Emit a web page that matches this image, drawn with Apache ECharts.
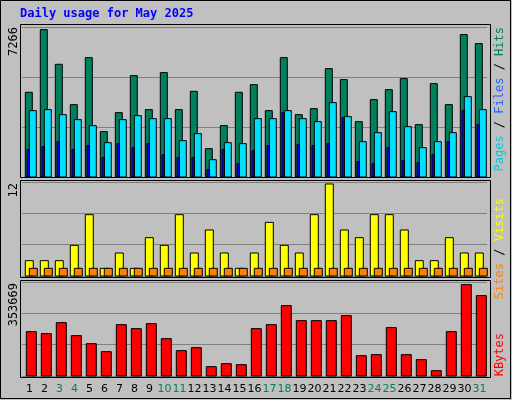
<!DOCTYPE html><html><head><meta charset="utf-8">
<script src="https://cdn.jsdelivr.net/npm/echarts@6/dist/echarts.min.js"></script>
<style>html,body{margin:0;padding:0;background:#c0c0c0}#c{width:512px;height:400px}</style></head><body><div id="c"></div>
<script>
const days=['1','2','3','4','5','6','7','8','9','10','11','12','13','14','15','16','17','18','19','20','21','22','23','24','25','26','27','28','29','30','31'];
const weekend=['3','4','10','11','17','18','24','25','31'];
const hits=[4176,7266,5557,3567,5885,2236,3173,4998,3321,5146,3321,4225,1397,2532,4176,4554,3272,5885,3074,3370,5343,4800,2729,3814,4307,4850,2581,4603,3567,7020,6576];
const files=[3272,3321,3074,2828,2532,1693,2828,3025,2877,2877,1792,2137,855,1693,1644,2877,2877,3272,2877,2729,3666,2976,1743,2187,3222,2482,1447,1743,2187,3962,3321];
const pages=[1348,1496,1743,1348,1545,954,1644,1447,1644,1101,954,954,362,1348,658,1299,1545,3173,1595,1545,1644,2926,756,658,1447,806,707,1101,1743,3272,2581];
const visits=[2,2,2,4,8,1,3,1,5,4,8,3,6,3,1,3,7,4,3,8,12,6,5,8,8,6,2,2,5,3,3];
const sites=[1,1,1,1,1,1,1,1,1,1,1,1,1,1,1,1,1,1,1,1,1,1,1,1,1,1,1,1,1,1,1];
const kbytes=[171663,163919,206512,156175,125198,94221,198768,183279,202640,144558,98093,109710,36140,47756,43884,183279,198768,272338,214256,214256,214256,233617,78733,82605,187152,82605,63244,20651,171663,353669,311059];
const maxLabels=['7266','12','353669'];

function barSeries(data,gi,off,w,color){
  return {type:'custom',xAxisIndex:gi,yAxisIndex:gi,data:data.map((v,i)=>[i,v]),
    renderItem:(p,api)=>{const c=api.coord([api.value(0),api.value(1)]);const b=api.coord([api.value(0),0]);
      const sw=api.size([1,0])[0];const x0=c[0]-sw/2+off;
      return {type:'rect',shape:{x:x0,y:c[1],width:w,height:b[1]-c[1]},style:{fill:color,stroke:'#000',lineWidth:1}};}};
}
const grids=[{top:27,height:150},{top:182,height:94},{top:282,height:94}];
const maxes=[7395,12.26,363730];
const ch=echarts.init(document.getElementById('c'));
ch.setOption({
  backgroundColor:'#c0c0c0',animation:false,
  grid:grids.map(g=>({left:22,width:465,top:g.top,height:g.height})),
  xAxis:[0,1,2].map(i=>({type:'category',gridIndex:i,data:days,axisLine:{show:false},axisTick:{show:false},
    axisLabel:{show:i===2,interval:0,margin:8,fontFamily:'DejaVu Sans',fontSize:11,
      color:(v)=>weekend.includes(v)?'#00805c':'#000'}})),
  yAxis:[0,1,2].map(i=>({type:'value',gridIndex:i,min:0,max:maxes[i],interval:maxes[i]/3,
    axisLabel:{show:false},axisLine:{show:false},axisTick:{show:false},
    splitLine:{lineStyle:{color:'#808080',width:1}}})),
  series:[
    barSeries(hits,0,3.3,7,'#00805c'),
    barSeries(files,0,7.3,7,'#00e0ff'),
    barSeries(pages,0,5,2.5,'#0000ff'),
    barSeries(visits,1,3.3,8,'#ffff00'),
    barSeries(sites,1,7.3,8,'#ff8000'),
    barSeries(kbytes,2,4.3,10,'#ff0000')
  ],
  graphic:[
    {type:'rect',shape:{x:0.5,y:0.5,width:510,height:398},style:{fill:null,stroke:'#000',lineWidth:1},z:-1},
    {type:'rect',shape:{x:20.5,y:24.5,width:470,height:153},style:{fill:null,stroke:'#000',lineWidth:1},z:100},
    {type:'rect',shape:{x:20.5,y:180.5,width:470,height:97},style:{fill:null,stroke:'#000',lineWidth:1},z:100},
    {type:'rect',shape:{x:20.5,y:280.5,width:470,height:97},style:{fill:null,stroke:'#000',lineWidth:1},z:100},
    {type:'text',left:20,top:8,style:{text:'Daily usage for May 2025',fill:'#0000ff',font:'bold 12px "DejaVu Sans Mono"'}},
    ...maxLabels.map((t,i)=>({type:'text',x:8,y:[27,183,283][i],rotation:Math.PI/2,
      style:{text:t,fill:'#000',font:'12px "DejaVu Sans Mono"',align:'right',verticalAlign:'top'}})),
    {type:'text',x:494,y:27,rotation:Math.PI/2,style:{align:'right',verticalAlign:'top',
      text:'{p|Pages}{s| / }{f|Files}{s| / }{h|Hits}',font:'12px "DejaVu Sans Mono"',
      rich:{p:{fill:'#00c8e8',font:'12px "DejaVu Sans Mono"'},f:{fill:'#2060ff',font:'12px "DejaVu Sans Mono"'},h:{fill:'#00805c',font:'12px "DejaVu Sans Mono"'},s:{fill:'#000',font:'12px "DejaVu Sans Mono"'}}}},
    {type:'text',x:494,y:198,rotation:Math.PI/2,style:{align:'right',verticalAlign:'top',
      text:'{a|Sites}{s| / }{b|Visits}',font:'12px "DejaVu Sans Mono"',
      rich:{a:{fill:'#ff8000',font:'12px "DejaVu Sans Mono"'},b:{fill:'#ffff00',font:'12px "DejaVu Sans Mono"'},s:{fill:'#000',font:'12px "DejaVu Sans Mono"'}}}},
    {type:'text',x:494,y:333,rotation:Math.PI/2,style:{align:'right',verticalAlign:'top',
      text:'KBytes',fill:'#ff0000',font:'12px "DejaVu Sans Mono"'}}
  ]
});
</script></body></html>
